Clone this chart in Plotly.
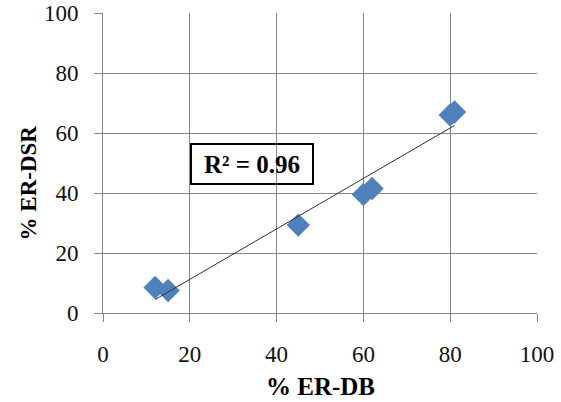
import numpy as np
import plotly.graph_objects as go

# Data
er_db = [12, 15, 45, 60, 62, 80, 81]
er_dsr = [8.5, 7.5, 29.3, 39.5, 41.5, 66, 67]
tick_vals = [0, 20, 40, 60, 80, 100]
r2_label = "R² = 0.96"

# Linear trendline
slope, intercept = np.polyfit(er_db, er_dsr, 1)
tx = [min(er_db), max(er_db)]
ty = [slope * v + intercept for v in tx]

font_family = "Liberation Serif, Times New Roman, serif"
grid_col = "#868686"

fig = go.Figure()
fig.add_trace(go.Scatter(
    x=er_db, y=er_dsr, mode="markers",
    marker=dict(symbol="diamond", size=18, color="#4F81BD", line=dict(width=0)),
    showlegend=False, cliponaxis=False,
))
fig.add_trace(go.Scatter(
    x=tx, y=ty, mode="lines",
    line=dict(color="#303030", width=1),
    showlegend=False,
))

axis_common = dict(
    range=[0, 100], tickvals=tick_vals, showgrid=True, gridcolor=grid_col, gridwidth=1,
    showline=True, linecolor=grid_col, linewidth=1, ticks="outside", ticklen=8,
    tickcolor=grid_col, zeroline=False, automargin=False,
    tickfont=dict(family=font_family, size=23, color="#111111"),
)

fig.update_layout(
    width=561, height=402,
    margin=dict(l=103, r=24, t=13, b=89),
    plot_bgcolor="white", paper_bgcolor="white",
    xaxis=dict(**axis_common, ticklabelstandoff=12),
    yaxis=dict(**axis_common, ticklabelstandoff=11),
    annotations=[
        dict(text="<b>" + r2_label + "</b>", x=34.3, y=49.7, xref="x", yref="y",
             showarrow=False, font=dict(family=font_family, size=25, color="black"),
             bordercolor="black", borderwidth=2, borderpad=3,
             width=114, height=32),
        dict(text="<b>% ER-DSR</b>", x=-0.172, y=0.433, xref="paper", yref="paper",
             showarrow=False, textangle=-90,
             font=dict(family=font_family, size=23, color="black"),
             xanchor="center", yanchor="middle"),
        dict(text="<b>% ER-DB</b>", x=0.5, y=-0.245, xref="paper", yref="paper",
             showarrow=False,
             font=dict(family=font_family, size=25, color="black"),
             xanchor="center", yanchor="middle"),
    ],
)

fig.write_html("out.html")
